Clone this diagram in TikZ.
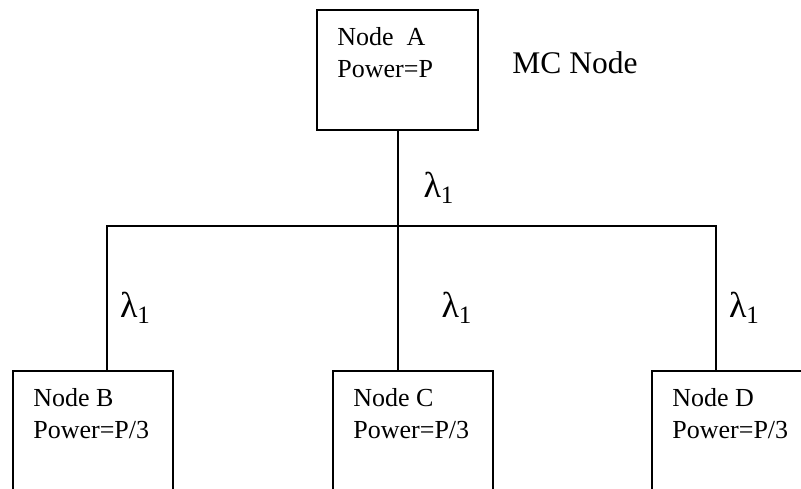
\documentclass[tikz,border=0pt]{standalone}
\usepackage{fontspec}
\setmainfont{Liberation Serif}
\usetikzlibrary{positioning}

\newcommand{\lamone}{λ\raisebox{-3pt}{\fontsize{12.5}{14}\selectfont 1}}

\tikzset{
  box/.style={draw, line width=1pt, minimum width=80pt, minimum height=70pt,
    anchor=north west, inner sep=0pt},
  boxtxt/.style={align=left, inner sep=0pt, font=\fontsize{13}{16}\selectfont},
  lam/.style={inner sep=0pt, font=\fontsize{18}{20}\selectfont},
  link/.style={line width=1pt},
}

\begin{document}
\begin{tikzpicture}[x=0.5pt, y=-0.5pt]
\useasboundingbox (0,0) rectangle (801,488);
\clip (0,0) rectangle (801,488);

% source node
\node[box, minimum width=80.5pt, minimum height=60pt] (nodeA) at (316,9) {};
\node[boxtxt, below right=9pt and 10.5pt of nodeA.north west] (txtA) {Node\ \ A\\Power=P};
\node[inner sep=0pt, anchor=base west, font=\fontsize{15.75}{18}\selectfont] (mc) at (512,73) {MC Node};

% receivers
\node[box] (nodeB) at (12,370) {};
\node[box] (nodeC) at (332,370) {};
\node[box] (nodeD) at (651,370) {};
\node[boxtxt, below right=9pt and 10.5pt of nodeB.north west] (txtB) {Node B\\Power=P/3};
\node[boxtxt, below right=9pt and 10.5pt of nodeC.north west] (txtC) {Node C\\Power=P/3};
\node[boxtxt, below right=9pt and 10.5pt of nodeD.north west] (txtD) {Node D\\Power=P/3};

% tree
\coordinate (hub) at (nodeA.south |- 0,226);
\coordinate (jB) at (107,226);
\coordinate (jD) at (716,226);

\draw[link] (nodeA.south) -- node[lam, pos=.6, right=12.5pt] (lamA) {\lamone} (hub);
\draw[link] (jB |- nodeB.north) -- node[lam, pos=.43, right=6pt] (lamB) {\lamone} (jB)
  -- (jD) -- node[lam, pos=.57, right=6pt] (lamD) {\lamone} (jD |- nodeD.north);
\draw[link] (hub) -- node[lam, pos=.57, right=21.5pt] (lamC) {\lamone} (hub |- nodeC.north);
\end{tikzpicture}
\end{document}
